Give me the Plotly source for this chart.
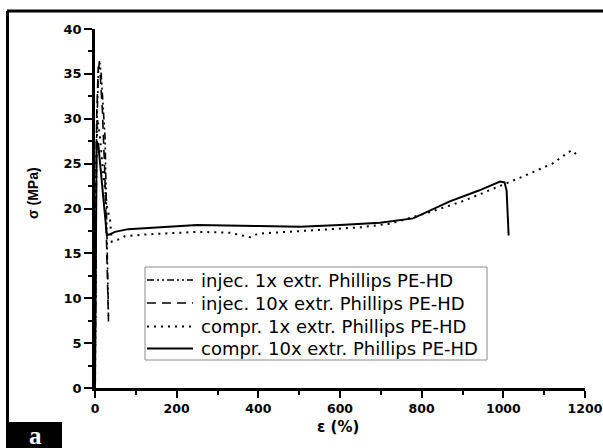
import plotly.graph_objects as go

# ---- data ----
inj1_eps = [0, 4, 8, 11, 15, 20, 24.5, 28, 31, 33]
inj1_sig = [0, 28, 35, 36.5, 35, 31, 28, 20, 12, 8]

inj10_eps = [0, 4, 8, 12, 18, 24, 29, 33]
inj10_sig = [0, 30, 35.8, 35.5, 31, 24, 15, 7.4]

comp1_eps = [0, 3, 6, 12, 20, 30, 37, 41, 55, 73, 120, 171, 250, 330, 380, 400, 500, 583, 650, 722, 813, 900, 975, 1050, 1120, 1167, 1180]
comp1_sig = [0, 25, 30, 28, 24, 20, 18.7, 16.3, 16.5, 16.9, 17.1, 17.2, 17.4, 17.3, 16.8, 17.2, 17.5, 17.7, 17.9, 18.3, 19.5, 20.8, 22.2, 23.6, 25.0, 26.5, 26.0]

comp10_eps = [0, 2, 4, 8, 15, 22, 29, 35, 49, 81, 171, 250, 400, 502, 600, 698, 779, 869, 940, 992, 1003, 1008, 1011, 1013]
comp10_sig = [0, 24, 27.4, 27.2, 24, 20.5, 17.05, 17.1, 17.4, 17.7, 17.97, 18.15, 18.05, 17.97, 18.15, 18.4, 18.9, 20.8, 22.0, 23.0, 22.9, 22.0, 19, 17.0]

names = ["injec. 1x extr. Phillips PE-HD", "injec. 10x extr. Phillips PE-HD",
         "compr. 1x extr. Phillips PE-HD", "compr. 10x extr. Phillips PE-HD"]

x_ticks = [0, 200, 400, 600, 800, 1000, 1200]
y_ticks = [0, 5, 10, 15, 20, 25, 30, 35, 40]

styles = [
    dict(color="black", width=1.6, dash="7px,3px,2px,3px,2px,3px"),
    dict(color="black", width=1.6, dash="9px,6px"),
    dict(color="black", width=2, dash="2px,5px"),
    dict(color="black", width=2),
]

fig = go.Figure()
for xs, ys, nm, st in zip([inj1_eps, inj10_eps, comp1_eps, comp10_eps],
                          [inj1_sig, inj10_sig, comp1_sig, comp10_sig], names, styles):
    fig.add_trace(go.Scatter(x=xs, y=ys, mode="lines", name=nm, line=st, showlegend=False))

ytickfont = dict(family="DejaVu Sans", size=13, color="black", weight="bold")
xtickfont = dict(family="DejaVu Sans", size=12.5, color="black", weight="bold")

fig.update_layout(
    width=603, height=448,
    margin=dict(l=95, r=18, t=29, b=60, autoexpand=False),
    paper_bgcolor="white", plot_bgcolor="white",
    showlegend=False,
    xaxis=dict(range=[0, 1200], showline=True, linewidth=2.5, linecolor="black",
               ticks="outside", ticklen=7, tickwidth=2, tickcolor="black",
               tickvals=x_ticks, ticktext=["<b>%d</b>" % v for v in x_ticks],
               ticklabeloverflow="allow", automargin=False,
               minor=dict(ticks="outside", ticklen=4, tickwidth=2, tickcolor="black",
                          tickvals=[100, 300, 500, 700, 900, 1100]),
               showgrid=False, zeroline=False, tickfont=xtickfont),
    yaxis=dict(range=[0, 40], showline=True, linewidth=2.5, linecolor="black",
               ticks="outside", ticklen=8, tickwidth=2, tickcolor="black",
               tickvals=y_ticks, ticktext=["<b>%d</b>" % v for v in y_ticks],
               ticklabeloverflow="allow", automargin=False,
               minor=dict(ticks="outside", ticklen=4, tickwidth=2, tickcolor="black",
                          tickvals=[2.5, 7.5, 12.5, 17.5, 22.5, 27.5, 32.5, 37.5]),
               showgrid=False, zeroline=False, tickfont=ytickfont),
)

W, H = 490.0, 359.0
def px(xp):
    return (xp - 95) / W
def py(yp):
    return (388 - yp) / H

shapes = [
    dict(type="line", xref="paper", yref="paper", x0=px(7), x1=px(603), y0=py(11), y1=py(11),
         line=dict(color="black", width=3)),
    dict(type="line", xref="paper", yref="paper", x0=px(7.5), x1=px(7.5), y0=py(11), y1=py(448),
         line=dict(color="black", width=3)),
    dict(type="rect", xref="paper", yref="paper", x0=px(7), x1=px(62), y0=py(422), y1=py(448),
         fillcolor="black", line=dict(width=0)),
    # legend frame
    dict(type="rect", xref="paper", yref="paper", x0=px(145), x1=px(487), y0=py(360), y1=py(267),
         fillcolor="white", line=dict(color="#8a8a8a", width=1), layer="above"),
]

annotations = [
    dict(text="<b>σ (MPa)</b>", xref="paper", yref="paper", x=px(33), y=py(193), textangle=-90,
         showarrow=False, xanchor="center", yanchor="middle",
         font=dict(family="Liberation Sans, Arial", size=14, color="black")),
    dict(text="<b>ε (%)</b>", xref="paper", yref="paper", x=px(338), y=py(427),
         showarrow=False, xanchor="center", yanchor="middle",
         font=dict(family="DejaVu Sans", size=15, color="black")),
    dict(text="<b>a</b>", xref="paper", yref="paper", x=px(35), y=py(435),
         showarrow=False, xanchor="center", yanchor="middle",
         font=dict(family="Liberation Serif, Times New Roman", size=25, color="white")),
]

row_y = [280, 303, 326.5, 348.5]
for nm, st, ry in zip(names, styles, row_y):
    shapes.append(dict(type="line", xref="paper", yref="paper", x0=px(147), x1=px(193),
                       y0=py(ry), y1=py(ry), line=st, layer="above"))
    annotations.append(dict(text=nm, xref="paper", yref="paper", x=px(199), y=py(ry),
                            showarrow=False, xanchor="left", yanchor="middle",
                            font=dict(family="DejaVu Sans", size=18, color="black")))

fig.update_layout(shapes=shapes, annotations=annotations)

fig.write_html("out.html", config={"displayModeBar": False},
               post_script="document.body.style.margin='0';document.body.style.overflow='hidden';")
